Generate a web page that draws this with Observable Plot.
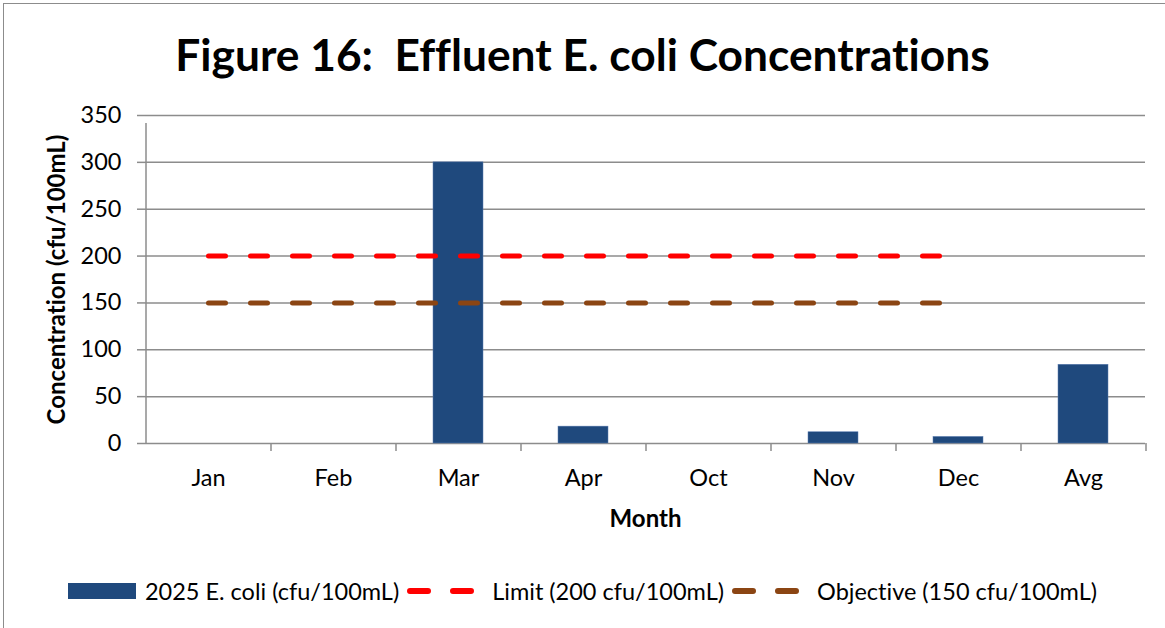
<!DOCTYPE html>
<html>
<head>
<meta charset="utf-8">
<script src="https://cdn.jsdelivr.net/npm/d3@7"></script>
<script src="https://cdn.jsdelivr.net/npm/@observablehq/plot@0.6"></script>
<style>
  html, body { margin: 0; padding: 0; background: #fff; }
  body { width: 1165px; height: 628px; overflow: hidden; position: relative; font-family: Lato, "Open Sans", sans-serif; font-variant-ligatures: none; }
  #frame { position: absolute; left: 3px; top: 3px; width: 1175px; height: 640px; border: 1.5px solid #8c8c8c; box-sizing: border-box; }
  #title { position: absolute; left: 0; top: 0; width: 1165px; height: 100px; text-align: center; font-weight: bold; font-size: 44.3px; line-height: 108px; color: #000; white-space: pre; }
  #chart { position: absolute; left: 0; top: 100px; }
  #legend { position: absolute; left: 0; top: 550px; width: 1165px; height: 78px; display: flex; justify-content: center; align-items: center; padding-top: 4px; box-sizing: border-box; font-size: 23.5px; color: #000; }
  .item { display: flex; align-items: center; margin: 0 4px; }
  .sw { margin-right: 9px; }
  .sw.ln { margin-right: 15px; }
</style>
</head>
<body>
<div id="frame"></div>
<div id="title"></div>
<div id="chart"></div>
<div id="legend"></div>
<script>
const titleText = "Figure 16:  Effluent E. coli Concentrations";
const months = ["Jan", "Feb", "Mar", "Apr", "Oct", "Nov", "Dec", "Avg"];
const ecoli = [null, null, 300, 18, null, 12, 7, 84];
const limitMonths = ["Jan", "Feb", "Mar", "Apr", "Oct", "Nov", "Dec"];
const limitValue = 200;
const objectiveValue = 150;
const yTicks = [0, 50, 100, 150, 200, 250, 300, 350];
const seriesNames = ["2025 E. coli (cfu/100mL)", "Limit (200 cfu/100mL)", "Objective (150 cfu/100mL)"];
const yLabel = "Concentration (cfu/100mL)";
const xLabel = "Month";

const barColor = "#1F497D", limitColor = "#FF0000", objColor = "#8B4513", gridColor = "#8c8c8c";

document.getElementById("title").textContent = titleText;

const bars = months.map((m, i) => ({month: m, value: ecoli[i]}));
const limitData = limitMonths.map(m => ({month: m, value: limitValue}));
const objData = limitMonths.map(m => ({month: m, value: objectiveValue}));

const plot = Plot.plot({
  width: 1165,
  height: 450,
  marginTop: 15,
  marginBottom: 107,
  marginLeft: 145,
  marginRight: 20,
  style: {fontFamily: "Lato, 'Open Sans', sans-serif", fontSize: "23px", color: "#000", background: "transparent"},
  x: {type: "band", domain: months, paddingInner: 0.6, paddingOuter: 0.3, label: null},
  y: {domain: [0, 350], ticks: yTicks, label: null},
  marks: [
    Plot.gridY(yTicks, {stroke: gridColor, strokeOpacity: 1, strokeWidth: 1.5}),
    Plot.ruleX([months[0]], {dx: -62.5, y1: 0, y2: 350, stroke: gridColor, strokeWidth: 1.5, insetBottom: -8}),
    Plot.ruleX(months, {dx: 62.5, y1: 0, y2: 0, stroke: gridColor, strokeWidth: 1.5, insetBottom: -8}),
    Plot.axisY(yTicks, {tickSize: 8, tickPadding: 16, stroke: gridColor, strokeWidth: 1.5, fill: "#000", fontSize: 23.5, label: null}),
    Plot.axisX({tickSize: 0, tickPadding: 26, fill: "#000", fontSize: 23.5, label: null}),
    Plot.barY(bars.filter(d => d.value != null), {x: "month", y: "value", fill: barColor, stroke: "#5b7db0", strokeWidth: 0.5}),
    Plot.lineY(limitData, {x: "month", y: "value", stroke: limitColor, strokeWidth: 5, strokeDasharray: "17,25", strokeLinecap: "round"}),
    Plot.lineY(objData, {x: "month", y: "value", stroke: objColor, strokeWidth: 5, strokeDasharray: "17,25", strokeLinecap: "round"}),
    Plot.text([yLabel], {frameAnchor: "left", textAnchor: "middle", dx: -88, rotate: -90, fontWeight: "bold", fontSize: 24, fill: "#000"}),
    Plot.text([xLabel], {frameAnchor: "bottom", textAnchor: "middle", dy: 83, fontWeight: "bold", fontSize: 24, fill: "#000"})
  ]
});
document.getElementById("chart").appendChild(plot);

// legend
const legend = document.getElementById("legend");
const swatches = [
  `<svg class="sw" width="68" height="16"><rect x="0" y="0" width="68" height="16" fill="${barColor}"/></svg>`,
  `<svg class="sw ln" width="70" height="10"><line x1="3" y1="5" x2="67" y2="5" stroke="${limitColor}" stroke-width="6" stroke-linecap="round" stroke-dasharray="18,25"/></svg>`,
  `<svg class="sw ln" width="70" height="10"><line x1="3" y1="5" x2="67" y2="5" stroke="${objColor}" stroke-width="6" stroke-linecap="round" stroke-dasharray="18,25"/></svg>`
];
seriesNames.forEach((name, i) => {
  const el = document.createElement("div");
  el.className = "item";
  el.innerHTML = swatches[i] + `<span>${name}</span>`;
  legend.appendChild(el);
});
</script>
</body>
</html>
